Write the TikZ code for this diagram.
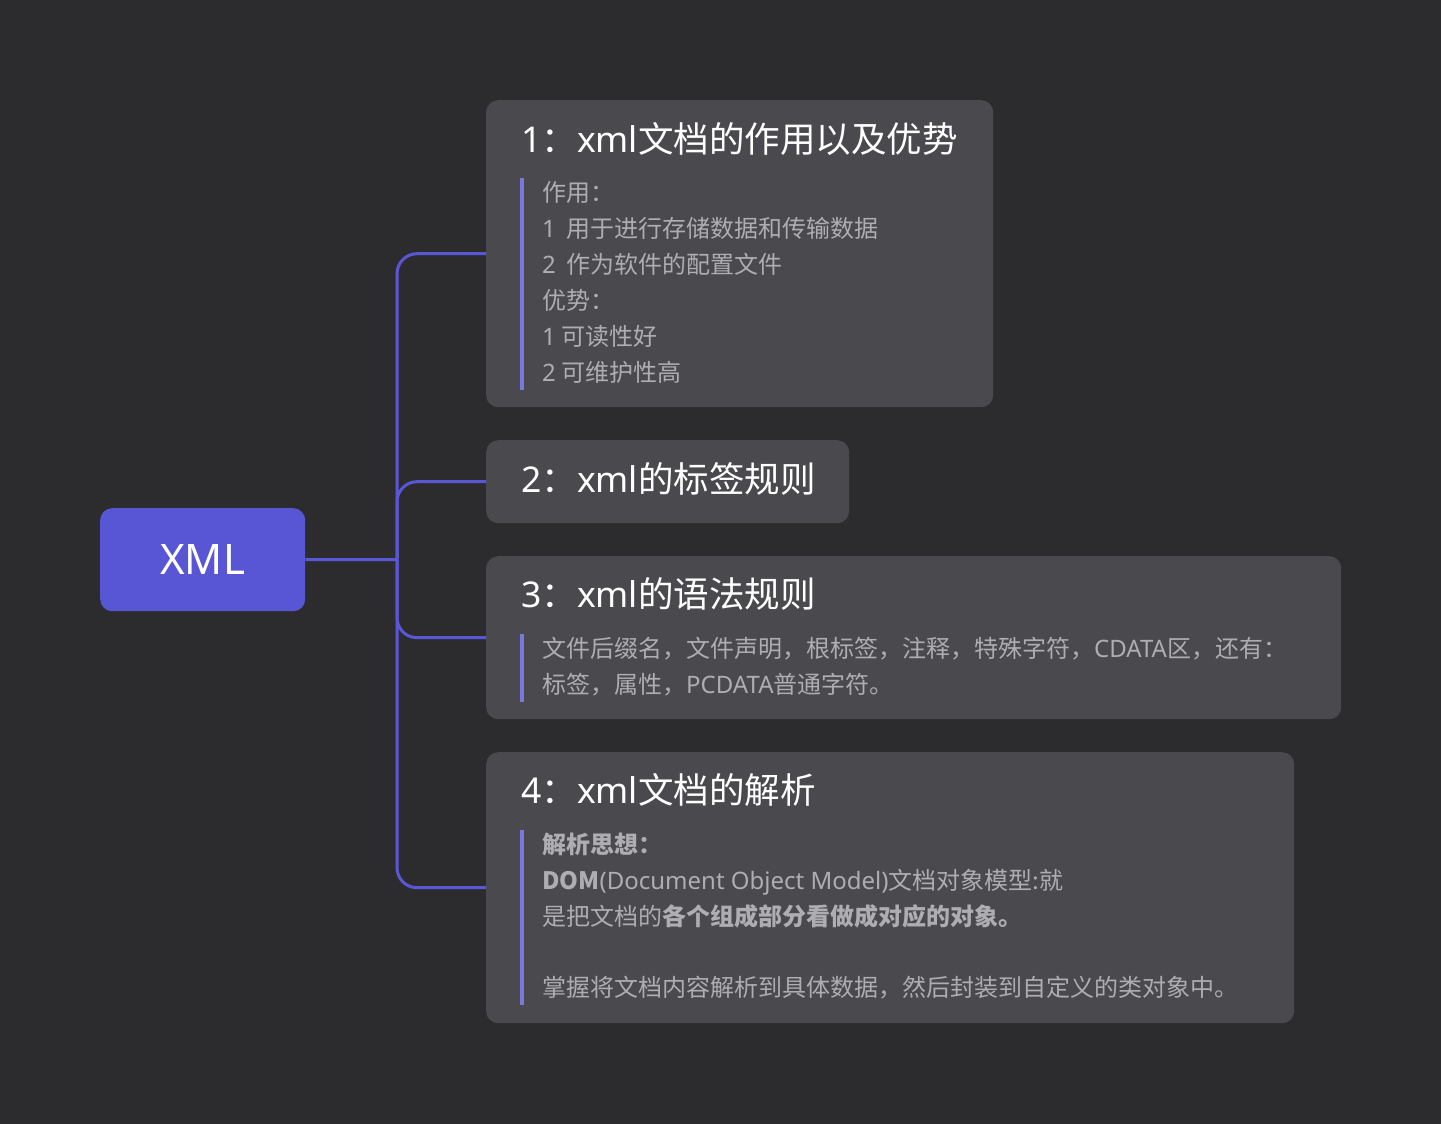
\documentclass[tikz,border=0pt]{standalone}
\usepackage{fontspec}
\setmainfont{Noto Sans CJK SC}
\newfontfamily\lat{Noto Sans}
\definecolor{bgc}{HTML}{2C2C2E}
\definecolor{cardc}{HTML}{4A494E}
\definecolor{rootc}{HTML}{5956D5}
\definecolor{linec}{HTML}{5A57D6}
\definecolor{barc}{HTML}{7A78D8}
\definecolor{bodyc}{HTML}{AEAEB2}
\tikzset{
  card/.style={fill=cardc, rounded corners=12pt, anchor=north west, inner sep=0pt},
  rootbox/.style={fill=rootc, rounded corners=12pt, anchor=north west, inner sep=0pt, minimum width=205pt, minimum height=103pt},
  conn/.style={draw=linec, line width=3pt, rounded corners=20pt},
  ttl/.style={anchor=base west, inner sep=0pt, text=white, font=\fontsize{35.5}{40}\selectfont},
  body/.style={anchor=base west, inner sep=0pt, text=bodyc, font=\fontsize{24}{36}\selectfont},
  bar/.style={fill=barc}
}
\begin{document}
\begin{tikzpicture}[x=1pt,y=-1pt]
\fill[bgc] (0,0) rectangle (1441,1124);
\useasboundingbox (0,0) rectangle (1441,1124);

% cards
\node[card, minimum width=507pt, minimum height=307pt] (b1) at (486,100) {};
\node[card, minimum width=363pt, minimum height=83pt] (b2) at (486,440) {};
\node[card, minimum width=855pt, minimum height=163pt] (b3) at (486,556) {};
\node[card, minimum width=808pt, minimum height=271pt] (b4) at (486,752) {};

% root
\node[rootbox] (root) at (100,508) {};
\node[text=white, font=\lat\fontsize{42}{50}\selectfont, inner sep=0pt] (roottxt) at (root.center) {XML};

% connectors
\coordinate (hub) at (397,559.5);
\draw[conn] (root.east) -- (hub);
\draw[conn] (hub) |- (b1.west);
\draw[conn] (hub) |- (b2.west);
\draw[conn] (hub) |- (b3.west);
\draw[conn] (hub) |- (b4.west);

% card 1
\node[ttl] (t1) at (521,152) {{\lat 1}：{\lat xml}文档的作用以及优势};
\fill[bar] (520,178) rectangle (524,390);
\node[body] (l11) at (542,201) {作用：};
\node[body] (l12) at (542,237) {{\lat 1}\ \ 用于进行存储数据和传输数据};
\node[body] (l13) at (542,273) {{\lat 2}\ \ 作为软件的配置文件};
\node[body] (l14) at (542,309) {优势：};
\node[body] (l15) at (542,345) {{\lat 1} 可读性好};
\node[body] (l16) at (542,381) {{\lat 2} 可维护性高};

% card 2
\node[ttl] (t2) at (521,492) {{\lat 2}：{\lat xml}的标签规则};

% card 3
\node[ttl] (t3) at (521,607) {{\lat 3}：{\lat xml}的语法规则};
\fill[bar] (520,634) rectangle (524,702);
\node[body] (l31) at (542,657) {文件后缀名，文件声明，根标签，注释，特殊字符，{\lat CDATA}区，还有：};
\node[body] (l32) at (542,693) {标签，属性，{\lat PCDATA}普通字符。};

% card 4
\node[ttl] (t4) at (521,803) {{\lat 4}：{\lat xml}文档的解析};
\fill[bar] (520,830) rectangle (524,1005);
\node[body] (l41) at (542,853) {\bfseries 解析思想：};
\node[body] (l42) at (542,889) {{\bfseries DOM}{\lat(Document Object Model)}文档对象模型:就};
\node[body] (l43) at (542,925) {是把文档的{\bfseries 各个组成部分看做成对应的对象。}};
\node[body] (l44) at (542,996) {掌握将文档内容解析到具体数据，然后封装到自定义的类对象中。};
\end{tikzpicture}
\end{document}
